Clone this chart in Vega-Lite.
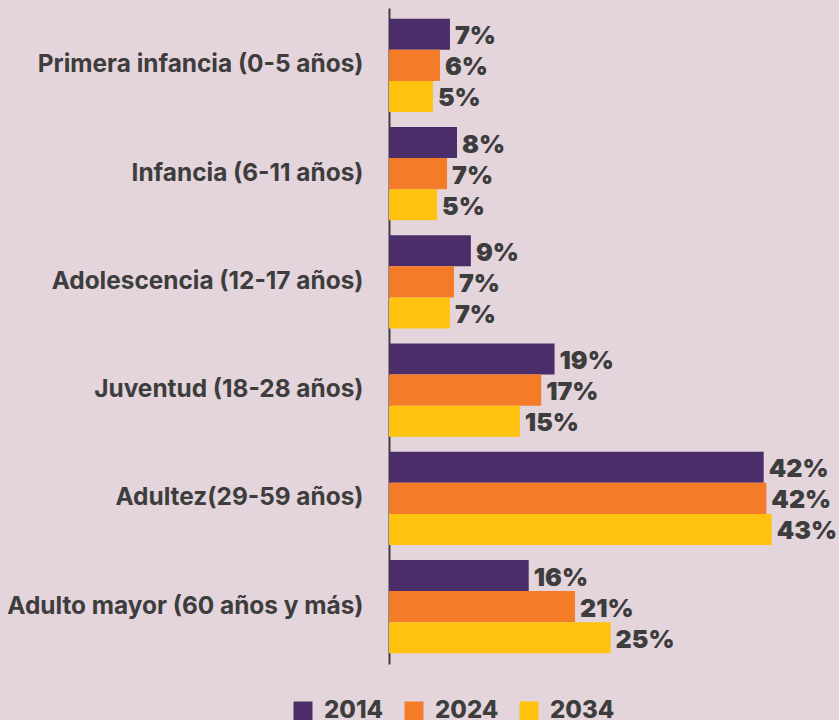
{
  "$schema": "https://vega.github.io/schema/vega-lite/v6.json",
  "autosize": "none",
  "width": 445,
  "height": 656,
  "padding": {"left": 389, "top": 8, "right": 5, "bottom": 56},
  "background": "#e4d4db",
  "config": {"view": {"stroke": null}, "font": "Inter"},
  "data": {"values": [
    {"grupo": "Primera infancia (0-5 años)", "year": "2014", "value": 0.0685},
    {"grupo": "Primera infancia (0-5 años)", "year": "2024", "value": 0.0573},
    {"grupo": "Primera infancia (0-5 años)", "year": "2034", "value": 0.0494},
    {"grupo": "Infancia (6-11 años)", "year": "2014", "value": 0.0764},
    {"grupo": "Infancia (6-11 años)", "year": "2024", "value": 0.0652},
    {"grupo": "Infancia (6-11 años)", "year": "2034", "value": 0.054},
    {"grupo": "Adolescencia (12-17 años)", "year": "2014", "value": 0.092},
    {"grupo": "Adolescencia (12-17 años)", "year": "2024", "value": 0.073},
    {"grupo": "Adolescencia (12-17 años)", "year": "2034", "value": 0.0685},
    {"grupo": "Juventud (18-28 años)", "year": "2014", "value": 0.186},
    {"grupo": "Juventud (18-28 años)", "year": "2024", "value": 0.171},
    {"grupo": "Juventud (18-28 años)", "year": "2034", "value": 0.147},
    {"grupo": "Adultez(29-59 años)", "year": "2014", "value": 0.421},
    {"grupo": "Adultez(29-59 años)", "year": "2024", "value": 0.424},
    {"grupo": "Adultez(29-59 años)", "year": "2034", "value": 0.43},
    {"grupo": "Adulto mayor (60 años y más)", "year": "2014", "value": 0.157},
    {"grupo": "Adulto mayor (60 años y más)", "year": "2024", "value": 0.209},
    {"grupo": "Adulto mayor (60 años y más)", "year": "2034", "value": 0.249}
  ]},
  "encoding": {
    "y": {
      "field": "grupo", "type": "nominal", "sort": null,
      "scale": {"paddingInner": 0.14, "paddingOuter": 0.1},
      "axis": {
        "title": null, "ticks": false, "labelPadding": 26,
        "labelFontSize": 24.4, "labelFontWeight": "bold", "labelColor": "#3d3d3d",
        "labelLimit": 500, "domainColor": "#3d3d3d", "domainWidth": 2
      }
    },
    "yOffset": {"field": "year", "type": "nominal", "sort": ["2014", "2024", "2034"], "scale": {"paddingInner": 0, "paddingOuter": 0}},
    "x": {"field": "value", "type": "quantitative", "scale": {"domain": [0, 0.5], "nice": false}, "axis": null}
  },
  "layer": [
    {
      "mark": {"type": "bar"},
      "encoding": {
        "color": {
          "field": "year", "type": "nominal",
          "scale": {"domain": ["2014", "2024", "2034"], "range": ["#4b2e69", "#f47b28", "#ffc20f"]},
          "legend": {
            "title": null, "orient": "none", "direction": "horizontal",
            "legendX": -98, "legendY": 691,
            "symbolType": "square", "symbolSize": 361, "symbolOpacity": 1, "symbolStrokeWidth": 0,
            "labelFontSize": 24, "labelFontWeight": 800, "labelColor": "#3d3d3d",
            "labelOffset": 9, "columnPadding": 18
          }
        }
      }
    },
    {
      "mark": {"type": "text", "align": "left", "baseline": "middle", "dx": 5, "dy": 2, "fontSize": 25, "fontWeight": 900, "color": "#3d3d3d"},
      "encoding": {"text": {"field": "value", "type": "quantitative", "format": ".0%"}}
    }
  ]
}
